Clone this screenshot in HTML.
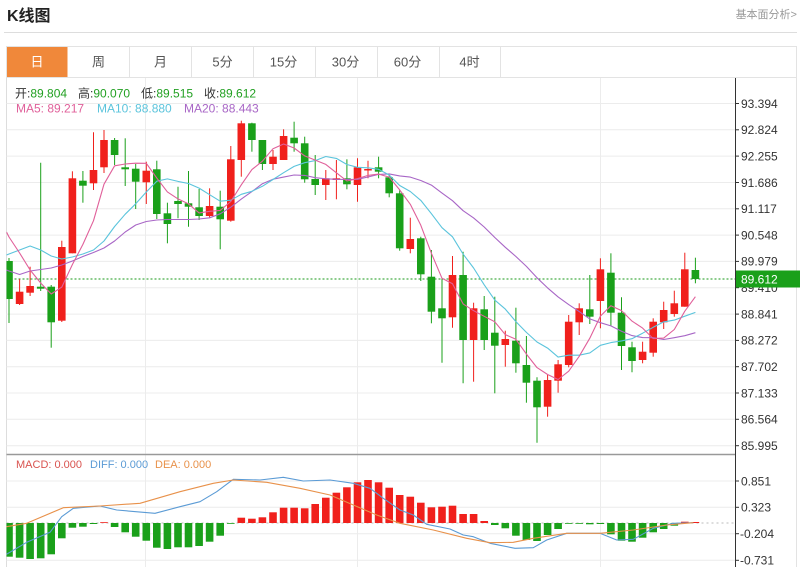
<!DOCTYPE html>
<html>
<head>
<meta charset="utf-8">
<style>
html,body{margin:0;padding:0;background:#fff;width:800px;height:567px;overflow:hidden;}
svg{display:block;}
</style>
</head>
<body>
<svg width="800" height="567" viewBox="0 0 800 567" xmlns="http://www.w3.org/2000/svg" font-family="'Liberation Sans','Noto Sans CJK SC',sans-serif">
<defs>
<clipPath id="main"><rect x="6.5" y="78" width="729" height="376"/></clipPath>
<clipPath id="macd"><rect x="6.5" y="455" width="729" height="112"/></clipPath>
</defs>
<rect x="0" y="0" width="800" height="567" fill="#fff"/>

<!-- header -->
<text x="7" y="21" font-size="16" font-weight="bold" fill="#222">K线图</text>
<text x="797" y="18" font-size="11" fill="#999" text-anchor="end">基本面分析&gt;</text>
<line x1="4" y1="32.5" x2="797" y2="32.5" stroke="#ddd"/>

<!-- tabs -->
<rect x="6.5" y="46.5" width="790" height="31" fill="#fff" stroke="#e3e3e3"/>
<rect x="7" y="47" width="60.5" height="30" fill="#f0883a"/>
<g stroke="#e3e3e3">
<line x1="129.5" y1="46.5" x2="129.5" y2="77.5"/>
<line x1="191.5" y1="46.5" x2="191.5" y2="77.5"/>
<line x1="253.5" y1="46.5" x2="253.5" y2="77.5"/>
<line x1="315.5" y1="46.5" x2="315.5" y2="77.5"/>
<line x1="377.5" y1="46.5" x2="377.5" y2="77.5"/>
<line x1="439.5" y1="46.5" x2="439.5" y2="77.5"/>
<line x1="500.5" y1="46.5" x2="500.5" y2="77.5"/>
</g>
<g font-size="13" fill="#555" text-anchor="middle">
<text x="37" y="66.5" fill="#fff">日</text>
<text x="98.5" y="66.5">周</text>
<text x="160.5" y="66.5">月</text>
<text x="222.5" y="66.5">5分</text>
<text x="283.5" y="66.5">15分</text>
<text x="345.5" y="66.5">30分</text>
<text x="407.5" y="66.5">60分</text>
<text x="469.5" y="66.5">4时</text>
</g>

<!-- frame -->
<line x1="6.5" y1="77.5" x2="6.5" y2="567" stroke="#ddd"/>
<line x1="796.5" y1="77.5" x2="796.5" y2="567" stroke="#e3e3e3"/>

<!-- grid -->
<g stroke="#ececec" stroke-width="1">
<line x1="6.5" y1="103.5" x2="735.5" y2="103.5"/>
<line x1="6.5" y1="129.8" x2="735.5" y2="129.8"/>
<line x1="6.5" y1="156.1" x2="735.5" y2="156.1"/>
<line x1="6.5" y1="182.5" x2="735.5" y2="182.5"/>
<line x1="6.5" y1="208.8" x2="735.5" y2="208.8"/>
<line x1="6.5" y1="235.1" x2="735.5" y2="235.1"/>
<line x1="6.5" y1="261.4" x2="735.5" y2="261.4"/>
<line x1="6.5" y1="287.7" x2="735.5" y2="287.7"/>
<line x1="6.5" y1="314.1" x2="735.5" y2="314.1"/>
<line x1="6.5" y1="340.4" x2="735.5" y2="340.4"/>
<line x1="6.5" y1="366.7" x2="735.5" y2="366.7"/>
<line x1="6.5" y1="393.0" x2="735.5" y2="393.0"/>
<line x1="6.5" y1="419.3" x2="735.5" y2="419.3"/>
<line x1="6.5" y1="445.7" x2="735.5" y2="445.7"/>
<line x1="6.5" y1="481" x2="735.5" y2="481"/>
<line x1="6.5" y1="507.3" x2="735.5" y2="507.3"/>
<line x1="6.5" y1="533.7" x2="735.5" y2="533.7"/>
<line x1="6.5" y1="560.3" x2="735.5" y2="560.3"/>
<line x1="145.5" y1="78" x2="145.5" y2="567"/>
<line x1="357.5" y1="78" x2="357.5" y2="567"/>
<line x1="600.5" y1="78" x2="600.5" y2="567"/>
</g>

<!-- legend -->
<text y="97.5" font-size="12"><tspan x="15" fill="#333">开:</tspan><tspan fill="#22a022">89.804</tspan><tspan x="78" fill="#333">高:</tspan><tspan fill="#22a022">90.070</tspan><tspan x="141" fill="#333">低:</tspan><tspan fill="#22a022">89.515</tspan><tspan x="204" fill="#333">收:</tspan><tspan fill="#22a022">89.612</tspan></text>
<text y="112.5" font-size="12"><tspan x="16" fill="#e0609a">MA5: 89.217</tspan><tspan x="97" fill="#5bc4dc">MA10: 88.880</tspan><tspan x="184" fill="#a866c6">MA20: 88.443</tspan></text>

<!-- price dotted line -->
<line x1="6.5" y1="279" x2="735.5" y2="279" stroke="#1a9a1a" stroke-dasharray="2,2"/>

<g clip-path="url(#main)">
<!-- green candles -->
<g fill="#1aa01a" stroke="#1aa01a" stroke-width="1">
<line x1="9" y1="258" x2="9" y2="323"/><rect x="5.2" y="261" width="7.6" height="38" stroke="none"/>
<line x1="40.7" y1="162.7" x2="40.7" y2="291"/><rect x="36.9" y="286.7" width="7.6" height="2" stroke="none"/>
<line x1="51.2" y1="285" x2="51.2" y2="347.7"/><rect x="47.4" y="286.7" width="7.6" height="35.6" stroke="none"/>
<line x1="82.9" y1="171" x2="82.9" y2="202.7"/><rect x="79.1" y="180.7" width="7.6" height="5" stroke="none"/>
<line x1="114.6" y1="138" x2="114.6" y2="165"/><rect x="110.8" y="140" width="7.6" height="15" stroke="none"/>
<line x1="125.2" y1="138.3" x2="125.2" y2="186"/><rect x="121.4" y="167.3" width="7.6" height="2" stroke="none"/>
<line x1="135.7" y1="164" x2="135.7" y2="209"/><rect x="131.9" y="168.7" width="7.6" height="13" stroke="none"/>
<line x1="156.8" y1="160.7" x2="156.8" y2="219"/><rect x="153" y="169.3" width="7.6" height="44.7" stroke="none"/>
<line x1="167.4" y1="202.7" x2="167.4" y2="243.3"/><rect x="163.6" y="213.3" width="7.6" height="10.7" stroke="none"/>
<line x1="178" y1="186.7" x2="178" y2="218.3"/><rect x="174.2" y="201" width="7.6" height="3" stroke="none"/>
<line x1="188.5" y1="171" x2="188.5" y2="226.7"/><rect x="184.7" y="203.3" width="7.6" height="3.4" stroke="none"/>
<line x1="199.1" y1="189" x2="199.1" y2="220"/><rect x="195.3" y="207.3" width="7.6" height="8.7" stroke="none"/>
<line x1="220.2" y1="190.7" x2="220.2" y2="249.3"/><rect x="216.4" y="206.7" width="7.6" height="12.6" stroke="none"/>
<line x1="251.9" y1="122.7" x2="251.9" y2="151.7"/><rect x="248.1" y="123.3" width="7.6" height="16.7" stroke="none"/>
<line x1="262.4" y1="140" x2="262.4" y2="170"/><rect x="258.6" y="140" width="7.6" height="24" stroke="none"/>
<line x1="294.1" y1="121.7" x2="294.1" y2="151.7"/><rect x="290.3" y="137.7" width="7.6" height="5.6" stroke="none"/>
<line x1="304.7" y1="136.7" x2="304.7" y2="182.7"/><rect x="300.9" y="143.3" width="7.6" height="36" stroke="none"/>
<line x1="315.2" y1="155" x2="315.2" y2="195"/><rect x="311.4" y="179" width="7.6" height="6" stroke="none"/>
<line x1="346.9" y1="159.3" x2="346.9" y2="189.3"/><rect x="343.1" y="178.3" width="7.6" height="6" stroke="none"/>
<line x1="378.6" y1="156.7" x2="378.6" y2="178.3"/><rect x="374.8" y="167.3" width="7.6" height="4.4" stroke="none"/>
<line x1="389.2" y1="175" x2="389.2" y2="197.3"/><rect x="385.4" y="177.3" width="7.6" height="16" stroke="none"/>
<line x1="399.7" y1="190" x2="399.7" y2="250.7"/><rect x="395.9" y="193.3" width="7.6" height="55" stroke="none"/>
<line x1="420.8" y1="236.7" x2="420.8" y2="281"/><rect x="417" y="238.3" width="7.6" height="36" stroke="none"/>
<line x1="431.4" y1="250" x2="431.4" y2="323.3"/><rect x="427.6" y="276.7" width="7.6" height="35" stroke="none"/>
<line x1="442" y1="278.3" x2="442" y2="362.7"/><rect x="438.2" y="308.3" width="7.6" height="10" stroke="none"/>
<line x1="463.1" y1="251.7" x2="463.1" y2="383.3"/><rect x="459.3" y="275" width="7.6" height="65" stroke="none"/>
<line x1="484.2" y1="296" x2="484.2" y2="350"/><rect x="480.4" y="309.3" width="7.6" height="30.7" stroke="none"/>
<line x1="494.8" y1="296.7" x2="494.8" y2="393.3"/><rect x="491" y="332.7" width="7.6" height="13" stroke="none"/>
<line x1="515.9" y1="307.7" x2="515.9" y2="372.7"/><rect x="512.1" y="340.7" width="7.6" height="22.6" stroke="none"/>
<line x1="526.4" y1="336" x2="526.4" y2="402.7"/><rect x="522.6" y="365" width="7.6" height="17.7" stroke="none"/>
<line x1="537" y1="377.3" x2="537" y2="442.7"/><rect x="533.2" y="380.7" width="7.6" height="26.6" stroke="none"/>
<line x1="589.8" y1="275" x2="589.8" y2="324"/><rect x="586" y="309.3" width="7.6" height="7.4" stroke="none"/>
<line x1="610.9" y1="253.3" x2="610.9" y2="325.7"/><rect x="607.1" y="272.7" width="7.6" height="40" stroke="none"/>
<line x1="621.5" y1="297.3" x2="621.5" y2="370"/><rect x="617.7" y="312.7" width="7.6" height="33.3" stroke="none"/>
<line x1="632" y1="341.7" x2="632" y2="372.3"/><rect x="628.2" y="347.3" width="7.6" height="13.7" stroke="none"/>
<line x1="695.4" y1="257.7" x2="695.4" y2="283.3"/><rect x="691.6" y="270" width="7.6" height="9" stroke="none"/>
</g>
<!-- red candles -->
<g fill="#f0201c" stroke="#f0201c" stroke-width="1">
<line x1="19.6" y1="279" x2="19.6" y2="305"/><rect x="15.8" y="291.7" width="7.6" height="12.3" stroke="none"/>
<line x1="30.1" y1="266.7" x2="30.1" y2="296"/><rect x="26.3" y="286" width="7.6" height="6.7" stroke="none"/>
<line x1="61.8" y1="240.7" x2="61.8" y2="322"/><rect x="58" y="247" width="7.6" height="73.7" stroke="none"/>
<line x1="72.4" y1="171.3" x2="72.4" y2="253.3"/><rect x="68.6" y="178.3" width="7.6" height="75" stroke="none"/>
<line x1="93.5" y1="132.3" x2="93.5" y2="190"/><rect x="89.7" y="170" width="7.6" height="13.3" stroke="none"/>
<line x1="104" y1="130" x2="104" y2="173"/><rect x="100.2" y="140" width="7.6" height="27.3" stroke="none"/>
<line x1="146.3" y1="161.7" x2="146.3" y2="204"/><rect x="142.5" y="170.7" width="7.6" height="11.6" stroke="none"/>
<line x1="209.6" y1="188.3" x2="209.6" y2="218"/><rect x="205.8" y="206" width="7.6" height="10" stroke="none"/>
<line x1="230.8" y1="146" x2="230.8" y2="221.7"/><rect x="227" y="159.3" width="7.6" height="61.4" stroke="none"/>
<line x1="241.3" y1="120.7" x2="241.3" y2="176.7"/><rect x="237.5" y="123.3" width="7.6" height="36.7" stroke="none"/>
<line x1="273" y1="150" x2="273" y2="170"/><rect x="269.2" y="156.7" width="7.6" height="7.3" stroke="none"/>
<line x1="283.6" y1="129.3" x2="283.6" y2="160"/><rect x="279.8" y="136" width="7.6" height="24" stroke="none"/>
<line x1="325.8" y1="170" x2="325.8" y2="200"/><rect x="322" y="178.3" width="7.6" height="6.7" stroke="none"/>
<line x1="336.4" y1="160" x2="336.4" y2="199.3"/><rect x="332.6" y="178.3" width="7.6" height="1.7" stroke="none"/>
<line x1="357.5" y1="158.3" x2="357.5" y2="201.7"/><rect x="353.7" y="167.3" width="7.6" height="17.7" stroke="none"/>
<line x1="368" y1="160.7" x2="368" y2="178.3"/><rect x="364.2" y="169" width="7.6" height="1.5" stroke="none"/>
<line x1="410.3" y1="217.7" x2="410.3" y2="253.3"/><rect x="406.5" y="239" width="7.6" height="10" stroke="none"/>
<line x1="452.5" y1="256" x2="452.5" y2="327.7"/><rect x="448.7" y="275" width="7.6" height="42.3" stroke="none"/>
<line x1="473.6" y1="302.7" x2="473.6" y2="381.7"/><rect x="469.8" y="308.3" width="7.6" height="31.7" stroke="none"/>
<line x1="505.3" y1="330.7" x2="505.3" y2="366.7"/><rect x="501.5" y="339" width="7.6" height="6" stroke="none"/>
<line x1="547.6" y1="375" x2="547.6" y2="416.7"/><rect x="543.8" y="380" width="7.6" height="26.7" stroke="none"/>
<line x1="558.1" y1="360" x2="558.1" y2="392.7"/><rect x="554.3" y="364.3" width="7.6" height="16.4" stroke="none"/>
<line x1="568.7" y1="315" x2="568.7" y2="367.3"/><rect x="564.9" y="321.7" width="7.6" height="43.3" stroke="none"/>
<line x1="579.2" y1="303.3" x2="579.2" y2="335"/><rect x="575.4" y="308.3" width="7.6" height="14" stroke="none"/>
<line x1="600.4" y1="258.3" x2="600.4" y2="328.3"/><rect x="596.6" y="269.3" width="7.6" height="31.7" stroke="none"/>
<line x1="642.6" y1="341.7" x2="642.6" y2="363.3"/><rect x="638.8" y="351.7" width="7.6" height="8.3" stroke="none"/>
<line x1="653.2" y1="318.3" x2="653.2" y2="356.7"/><rect x="649.4" y="321.7" width="7.6" height="31" stroke="none"/>
<line x1="663.7" y1="301.7" x2="663.7" y2="329"/><rect x="659.9" y="310" width="7.6" height="12.3" stroke="none"/>
<line x1="674.3" y1="290.7" x2="674.3" y2="316.7"/><rect x="670.5" y="303.3" width="7.6" height="10.7" stroke="none"/>
<line x1="684.8" y1="252.7" x2="684.8" y2="306.7"/><rect x="681" y="269.3" width="7.6" height="37.4" stroke="none"/>
</g>

<!-- MA lines -->
<g fill="none" stroke-width="1.1" stroke-linejoin="round">
<polyline stroke="#a866c6" points="6.5,270 9,271 19.6,274.5 30.1,271 40.7,269.5 51.2,268 61.8,265 72.4,261 82.9,256.5 93.5,252.5 104,248 114.6,241 125.2,232 135.7,225 146.3,221.5 156.8,220 167.4,219.5 178,219.5 188.5,219.5 199.1,219 209.6,217.8 220.2,213.8 230.8,207.2 241.3,199.1 251.9,191.6 262.4,183.7 273,179.2 283.6,177.1 294.1,175 304.7,175.4 315.2,177.7 325.8,178.8 336.4,179.3 346.9,179.4 357.5,179.3 368,177 378.6,174.4 389.2,173.9 399.7,175.9 410.3,177.1 420.8,180.5 431.4,185.1 442,193.1 452.5,200.7 463.1,210.7 473.6,217.9 484.2,227 494.8,237.5 505.3,247.3 515.9,256.5 526.4,266.4 537,277.8 547.6,287.9 558.1,296.9 568.7,304.6 579.2,311.6 589.8,318.9 600.4,322.7 610.9,325.9 621.5,331.2 632,335.6 642.6,337.6 653.2,337.7 663.7,339.5 674.3,337.7 684.8,335.7 695.4,332.7"/>
<polyline stroke="#5bc4dc" points="6.5,255 9,254 19.6,250 30.1,246 40.7,250 51.2,256 61.8,259 72.4,257 82.9,254 93.5,250 104,241 114.6,226.5 125.2,214.2 135.7,203.8 146.3,192 156.8,181.2 167.4,178.9 178,181.4 188.5,183.5 199.1,188.1 209.6,194.7 220.2,201.2 230.8,200.2 241.3,194.3 251.9,191.3 262.4,186.3 273,179.5 283.6,172.7 294.1,166.4 304.7,162.7 315.2,160.6 325.8,156.5 336.4,158.4 346.9,164.5 357.5,167.3 368,167.8 378.6,169.3 389.2,175 399.7,185.5 410.3,191.5 420.8,200.4 431.4,213.7 442,227.7 452.5,236.8 463.1,254.1 473.6,268 484.2,284.8 494.8,300.1 505.3,309.1 515.9,321.6 526.4,332.4 537,342 547.6,348.1 558.1,357.1 568.7,355.2 579.2,355.2 589.8,352.9 600.4,345.3 610.9,342.6 621.5,340.9 632,338.7 642.6,333.2 653.2,327.3 663.7,321.9 674.3,320.1 684.8,316.2 695.4,312.4"/>
<polyline stroke="#e0609a" points="6.5,232 9,237 19.6,253 30.1,270 40.7,283 51.2,294 61.8,287.1 72.4,264.5 82.9,244.4 93.5,220.7 104,184.2 114.6,165.8 125.2,164 135.7,163.2 146.3,163.3 156.8,178.1 167.4,191.9 178,198.9 188.5,203.9 199.1,212.9 209.6,211.3 220.2,210.4 230.8,201.5 241.3,184.8 251.9,169.6 262.4,161.2 273,148.7 283.6,144 294.1,148 304.7,155.9 315.2,160.1 325.8,164.4 336.4,172.8 346.9,181 357.5,178.6 368,175.4 378.6,174.1 389.2,177.1 399.7,189.9 410.3,204.3 420.8,225.3 431.4,253.3 442,278.3 452.5,283.7 463.1,303.9 473.6,310.7 484.2,316.3 494.8,321.8 505.3,334.6 515.9,339.3 526.4,354.1 537,367.6 547.6,374.5 558.1,379.5 568.7,371.2 579.2,356.3 589.8,338.2 600.4,316.1 610.9,305.7 621.5,310.6 632,321.1 642.6,328.1 653.2,338.6 663.7,338.1 674.3,329.5 684.8,311.2 695.4,296.7"/>
</g>
</g>

<!-- separator -->
<line x1="6.5" y1="454.5" x2="735.5" y2="454.5" stroke="#999" stroke-width="1.5"/>

<!-- MACD panel -->
<text y="468" font-size="11"><tspan x="16" fill="#d9534f">MACD: 0.000</tspan><tspan x="90" fill="#5b9bd5">DIFF: 0.000</tspan><tspan x="155" fill="#e8914a">DEA: 0.000</tspan></text>
<line x1="6.5" y1="523" x2="735.5" y2="523" stroke="#bbb" stroke-dasharray="2,3"/>
<g clip-path="url(#macd)">
<g fill="#1aa01a">
<rect x="5.2" y="523" width="7.6" height="33.7"/>
<rect x="15.8" y="523" width="7.6" height="34.7"/>
<rect x="26.3" y="523" width="7.6" height="36"/>
<rect x="36.9" y="523" width="7.6" height="35.3"/>
<rect x="47.4" y="523" width="7.6" height="31.3"/>
<rect x="58" y="523" width="7.6" height="15.3"/>
<rect x="68.6" y="523" width="7.6" height="4.7"/>
<rect x="79.1" y="523" width="7.6" height="3.7"/>
<rect x="89.7" y="523" width="7.6" height="1"/>
<rect x="110.8" y="523" width="7.6" height="4"/>
<rect x="121.4" y="523" width="7.6" height="9.3"/>
<rect x="131.9" y="523" width="7.6" height="13.7"/>
<rect x="142.5" y="523" width="7.6" height="17.7"/>
<rect x="153" y="523" width="7.6" height="24.7"/>
<rect x="163.6" y="523" width="7.6" height="26"/>
<rect x="174.2" y="523" width="7.6" height="24.3"/>
<rect x="184.7" y="523" width="7.6" height="24.3"/>
<rect x="195.3" y="523" width="7.6" height="23"/>
<rect x="205.8" y="523" width="7.6" height="18.7"/>
<rect x="216.4" y="523" width="7.6" height="12.7"/>
<rect x="227" y="523" width="7.6" height="0.8"/>
<rect x="491" y="523" width="7.6" height="2"/>
<rect x="501.5" y="523" width="7.6" height="5.3"/>
<rect x="512.1" y="523" width="7.6" height="12.7"/>
<rect x="522.6" y="523" width="7.6" height="17"/>
<rect x="533.2" y="523" width="7.6" height="18"/>
<rect x="543.8" y="523" width="7.6" height="12"/>
<rect x="554.3" y="523" width="7.6" height="6"/>
<rect x="564.9" y="523" width="7.6" height="0.8"/>
<rect x="575.4" y="523" width="7.6" height="0.8"/>
<rect x="586" y="523" width="7.6" height="1.3"/>
<rect x="596.6" y="523" width="7.6" height="1"/>
<rect x="607.1" y="523" width="7.6" height="11.3"/>
<rect x="617.7" y="523" width="7.6" height="17.7"/>
<rect x="628.2" y="523" width="7.6" height="18.7"/>
<rect x="638.8" y="523" width="7.6" height="14.7"/>
<rect x="649.4" y="523" width="7.6" height="9.3"/>
<rect x="659.9" y="523" width="7.6" height="6"/>
<rect x="670.5" y="523" width="7.6" height="2.7"/>
</g>
<g fill="#f0201c">
<rect x="100.2" y="522.2" width="7.6" height="0.8"/>
<rect x="237.5" y="517.7" width="7.6" height="5.3"/>
<rect x="248.1" y="518.7" width="7.6" height="4.3"/>
<rect x="258.6" y="517.3" width="7.6" height="5.7"/>
<rect x="269.2" y="512.3" width="7.6" height="10.7"/>
<rect x="279.8" y="507.7" width="7.6" height="15.3"/>
<rect x="290.3" y="507.7" width="7.6" height="15.3"/>
<rect x="300.9" y="508.3" width="7.6" height="14.7"/>
<rect x="311.4" y="504" width="7.6" height="19"/>
<rect x="322" y="497.7" width="7.6" height="25.3"/>
<rect x="332.6" y="492.7" width="7.6" height="30.3"/>
<rect x="343.1" y="487.3" width="7.6" height="35.7"/>
<rect x="353.7" y="482.3" width="7.6" height="40.7"/>
<rect x="364.2" y="480" width="7.6" height="43"/>
<rect x="374.8" y="482.3" width="7.6" height="40.7"/>
<rect x="385.4" y="487.7" width="7.6" height="35.3"/>
<rect x="395.9" y="495" width="7.6" height="28"/>
<rect x="406.5" y="496.7" width="7.6" height="26.3"/>
<rect x="417" y="502.7" width="7.6" height="20.3"/>
<rect x="427.6" y="507.3" width="7.6" height="15.7"/>
<rect x="438.2" y="506.7" width="7.6" height="16.3"/>
<rect x="448.7" y="505.7" width="7.6" height="17.3"/>
<rect x="459.3" y="514" width="7.6" height="9"/>
<rect x="469.8" y="514" width="7.6" height="9"/>
<rect x="480.4" y="521" width="7.6" height="2"/>
<rect x="681" y="521.7" width="7.6" height="1.3"/>
<rect x="691.6" y="522" width="7.6" height="1"/>
</g>
<g fill="none" stroke-width="1.1" stroke-linejoin="round">
<polyline stroke="#5b9bd5" points="6.5,554.3 26.7,542.3 50,532.3 61.7,516.7 73.3,508.3 100,506 116.7,510 155,513.3 180,506.7 200,501.7 216.7,491.7 233.3,479.3 260,480 283.3,477.3 303.3,481 330,480 353.3,483.3 370,488.3 383.3,498.3 400,510 413.3,515 426.7,524.3 450,529 463.3,535 473.3,536.7 490,543.3 515,548.3 533.3,547.7 546.7,540 566.7,533.3 600,533.3 616.7,540 633.3,539.3 653.3,528.3 673.3,523.3 693.3,522.7"/>
<polyline stroke="#e8914a" points="6.5,526.7 26.7,523.3 63.3,507.7 100,506 140,503.3 180,491.7 213.3,483.3 233.3,480 266.7,482.3 300,488.3 330,495 353.3,505 376.7,515 400,523.3 433.3,530 466.7,538.3 490,542.7 513.3,542.3 533.3,538.3 566.7,533.3 600,533.3 633.3,530 666.7,525 693.3,522.7"/>
</g>
</g>

<!-- axis -->
<line x1="735.5" y1="78" x2="735.5" y2="567" stroke="#333"/>
<g stroke="#333">
<line x1="735.5" y1="103.5" x2="739" y2="103.5"/>
<line x1="735.5" y1="129.8" x2="739" y2="129.8"/>
<line x1="735.5" y1="156.1" x2="739" y2="156.1"/>
<line x1="735.5" y1="182.5" x2="739" y2="182.5"/>
<line x1="735.5" y1="208.8" x2="739" y2="208.8"/>
<line x1="735.5" y1="235.1" x2="739" y2="235.1"/>
<line x1="735.5" y1="261.4" x2="739" y2="261.4"/>
<line x1="735.5" y1="287.7" x2="739" y2="287.7"/>
<line x1="735.5" y1="314.1" x2="739" y2="314.1"/>
<line x1="735.5" y1="340.4" x2="739" y2="340.4"/>
<line x1="735.5" y1="366.7" x2="739" y2="366.7"/>
<line x1="735.5" y1="393.0" x2="739" y2="393.0"/>
<line x1="735.5" y1="419.3" x2="739" y2="419.3"/>
<line x1="735.5" y1="445.7" x2="739" y2="445.7"/>
<line x1="735.5" y1="481" x2="739" y2="481"/>
<line x1="735.5" y1="507.3" x2="739" y2="507.3"/>
<line x1="735.5" y1="533.7" x2="739" y2="533.7"/>
<line x1="735.5" y1="560.3" x2="739" y2="560.3"/>
</g>
<g font-size="12" fill="#333">
<text x="741" y="107.8">93.394</text>
<text x="741" y="134.1">92.824</text>
<text x="741" y="160.4">92.255</text>
<text x="741" y="186.8">91.686</text>
<text x="741" y="213.1">91.117</text>
<text x="741" y="239.4">90.548</text>
<text x="741" y="265.7">89.979</text>
<text x="741" y="292">89.410</text>
<text x="741" y="318.4">88.841</text>
<text x="741" y="344.7">88.272</text>
<text x="741" y="371">87.702</text>
<text x="741" y="397.3">87.133</text>
<text x="741" y="423.6">86.564</text>
<text x="741" y="450">85.995</text>
<text x="741" y="485.3">0.851</text>
<text x="741" y="511.6">0.323</text>
<text x="740" y="538">-0.204</text>
<text x="740" y="564.6">-0.731</text>
</g>

<!-- price tag -->
<rect x="736" y="270.5" width="64" height="17" fill="#1aa01a"/>
<text x="741" y="283.3" font-size="12" fill="#fff">89.612</text>
</svg>
</body>
</html>
